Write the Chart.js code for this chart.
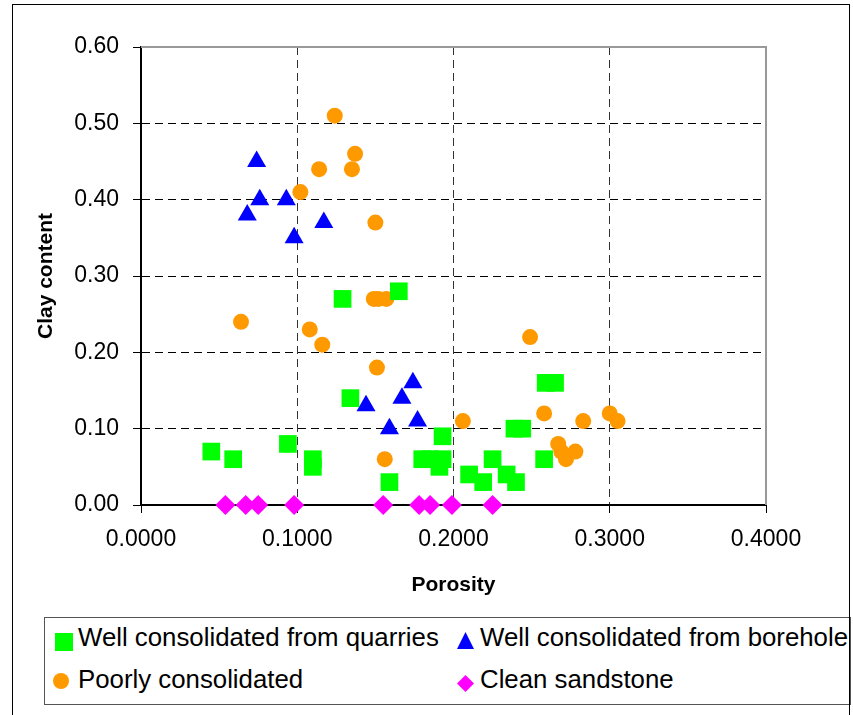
<!DOCTYPE html>
<html>
<head>
<meta charset="utf-8">
<script src="https://cdn.jsdelivr.net/npm/chart.js@4.4.0/dist/chart.umd.min.js"></script>
<style>
  body { margin: 0; background: #fff; font-family: "Liberation Sans", Arial, sans-serif; }
  #wrap { position: relative; width: 853px; height: 715px; overflow: hidden; }
  #frame { position: absolute; left: 12px; top: 4px; width: 836px; height: 740px; border: 1.5px solid #000; pointer-events: none; }
  #legend { position: absolute; left: 44px; top: 617px; width: 805px; height: 86px; border: 1px solid #555; background: #fff; }
  .item { position: absolute; font-size: 25.8px; line-height: 30px; color: #000; white-space: nowrap; }
  .mk { position: absolute; }
</style>
</head>
<body>
<div id="wrap">
  <canvas id="scatterChart" width="853" height="715"></canvas>
  <div id="legend"></div>
  <div id="frame"></div>
</div>
<script>
// axis ticks
const xTicks = [0, 0.1, 0.2, 0.3, 0.4];
const xTickLabels = ['0.0000', '0.1000', '0.2000', '0.3000', '0.4000'];
const yTicks = [0, 0.1, 0.2, 0.3, 0.4, 0.5, 0.6];
const yTickLabels = ['0.00', '0.10', '0.20', '0.30', '0.40', '0.50', '0.60'];

// series: porosity (x) and clay content (y)
const quarriesX = [0.045, 0.059, 0.094, 0.110, 0.110, 0.129, 0.165, 0.134, 0.159, 0.193, 0.180, 0.185,
                   0.193, 0.191, 0.210, 0.219, 0.225, 0.234, 0.240, 0.239, 0.244, 0.259, 0.265, 0.258];
const quarriesY = [0.07, 0.06, 0.08, 0.06, 0.05, 0.27, 0.28, 0.14, 0.03, 0.09, 0.06, 0.06,
                   0.06, 0.05, 0.04, 0.03, 0.06, 0.04, 0.03, 0.10, 0.10, 0.16, 0.16, 0.06];

const boreholeX = [0.074, 0.076, 0.093, 0.068, 0.098, 0.117, 0.144, 0.174, 0.167, 0.159, 0.177];
const boreholeY = [0.45, 0.40, 0.40, 0.38, 0.35, 0.37, 0.13, 0.16, 0.14, 0.10, 0.11];

const poorlyX = [0.124, 0.137, 0.114, 0.135, 0.102, 0.150, 0.064, 0.149, 0.152, 0.157, 0.108, 0.116,
                 0.151, 0.206, 0.156, 0.249, 0.258, 0.283, 0.300, 0.305, 0.267, 0.269, 0.272, 0.278];
const poorlyY = [0.51, 0.46, 0.44, 0.44, 0.41, 0.37, 0.24, 0.27, 0.27, 0.27, 0.23, 0.21,
                 0.18, 0.11, 0.06, 0.22, 0.12, 0.11, 0.12, 0.11, 0.08, 0.07, 0.06, 0.07];

const cleanX = [0.054, 0.067, 0.075, 0.098, 0.155, 0.178, 0.185, 0.199, 0.225];
const cleanY = [0, 0, 0, 0, 0, 0, 0, 0, 0];

const FONT = '"Liberation Sans", Arial, sans-serif';

function toPoints(xs, ys) {
    return xs.map((x, i) => ({ x: x, y: ys[i] }));
}

// no dashed grid line on top of the solid axis lines
function gridColor(color) {
    return c => (c.tick && c.tick.value === 0) ? 'rgba(0,0,0,0)' : color;
}

// gray top and right edges of the plot area, like the Excel frame
const plotFrame = {
    id: 'plotFrame',
    afterDraw(chart) {
        const { ctx, chartArea: a } = chart;
        ctx.save();
        ctx.strokeStyle = '#999';
        ctx.lineWidth = 2;
        ctx.beginPath();
        ctx.moveTo(a.left, a.top);
        ctx.lineTo(a.right, a.top);
        ctx.lineTo(a.right, a.bottom);
        ctx.stroke();
        ctx.restore();
    }
};

const ctx = document.getElementById('scatterChart').getContext('2d');
const scatterChart = new Chart(ctx, {
    type: 'scatter',
    data: {
        datasets: [
            {
                label: 'Well consolidated from quarries',
                data: toPoints(quarriesX, quarriesY),
                pointStyle: 'rect',
                pointRadius: 12.5,
                backgroundColor: '#00ff00',
                borderColor: '#00ff00',
                borderWidth: 0
            },
            {
                label: 'Well consolidated from borehole',
                data: toPoints(boreholeX, boreholeY),
                pointStyle: 'triangle',
                pointRadius: 11,
                backgroundColor: '#0000ff',
                borderColor: '#0000ff',
                borderWidth: 0
            },
            {
                label: 'Poorly consolidated',
                data: toPoints(poorlyX, poorlyY),
                pointStyle: 'circle',
                pointRadius: 8,
                backgroundColor: '#ff9900',
                borderColor: '#ff9900',
                borderWidth: 0
            },
            {
                label: 'Clean sandstone',
                data: toPoints(cleanX, cleanY),
                pointStyle: 'rectRot',
                pointRadius: 10,
                backgroundColor: '#ff00ff',
                borderColor: '#ff00ff',
                borderWidth: 0
            }
        ]
    },
    options: {
        responsive: false,
        animation: false,
        devicePixelRatio: 1,
        events: [],
        clip: false,
        layout: { padding: { left: 0, top: 47, right: 87, bottom: 110 } },
        plugins: {
            legend: { display: false },
            tooltip: { enabled: false }
        },
        scales: {
            x: {
                type: 'linear',
                min: 0,
                max: 0.4,
                afterBuildTicks: s => { s.ticks = xTicks.map(v => ({ value: v })); },
                afterFit: s => { s.height = 100; },
                ticks: {
                    callback: (v, i) => xTickLabels[i],
                    font: { family: FONT, size: 23 },
                    color: '#000',
                    padding: 13,
                    maxRotation: 0,
                    autoSkip: false
                },
                grid: { color: gridColor('#333'), lineWidth: 1, tickLength: 8, tickColor: '#000', tickBorderDash: [] },
                border: { display: true, color: '#000', width: 2, dash: [8, 5] },
                title: {
                    display: true,
                    text: 'Porosity',
                    color: '#000',
                    font: { family: FONT, size: 21, weight: 'bold' },
                    padding: { top: 0, bottom: 7 }
                }
            },
            y: {
                type: 'linear',
                min: 0,
                max: 0.6,
                afterBuildTicks: s => { s.ticks = yTicks.map(v => ({ value: v })); },
                afterFit: s => { s.width = 141; },
                ticks: {
                    callback: (v, i) => yTickLabels[i],
                    font: { family: FONT, size: 23 },
                    color: '#000',
                    padding: 14
                },
                grid: { color: gridColor('#000'), lineWidth: 1, tickLength: 8, tickColor: '#000', tickBorderDash: [] },
                border: { display: true, color: '#000', width: 2, dash: [8, 5] },
                title: {
                    display: true,
                    text: 'Clay content',
                    color: '#000',
                    font: { family: FONT, size: 21, weight: 'bold' },
                    padding: { top: 34, bottom: 0 }
                }
            }
        }
    },
    plugins: [plotFrame]
});

// legend in two columns, built from the datasets
const legendSpots = [
    { text: [33, 4], mark: [10, 15, 18, 18], shape: 'none' },
    { text: [435, 4], mark: [412, 14, 17, 17], shape: 'polygon(50% 0, 100% 100%, 0 100%)' },
    { text: [33, 46], mark: [8, 55, 16, 16], shape: 'circle(50%)' },
    { text: [435, 46], mark: [412, 57, 17, 17], shape: 'polygon(50% 0, 100% 50%, 50% 100%, 0 50%)' }
];
const legendBox = document.getElementById('legend');
scatterChart.data.datasets.forEach((ds, i) => {
    const spot = legendSpots[i];
    const mk = document.createElement('div');
    mk.className = 'mk';
    mk.style.left = spot.mark[0] + 'px';
    mk.style.top = spot.mark[1] + 'px';
    mk.style.width = spot.mark[2] + 'px';
    mk.style.height = spot.mark[3] + 'px';
    mk.style.background = ds.backgroundColor;
    if (spot.shape !== 'none') mk.style.clipPath = spot.shape;
    legendBox.appendChild(mk);

    const label = document.createElement('div');
    label.className = 'item';
    label.style.left = spot.text[0] + 'px';
    label.style.top = spot.text[1] + 'px';
    label.textContent = ds.label;
    legendBox.appendChild(label);
});
</script>
</body>
</html>
